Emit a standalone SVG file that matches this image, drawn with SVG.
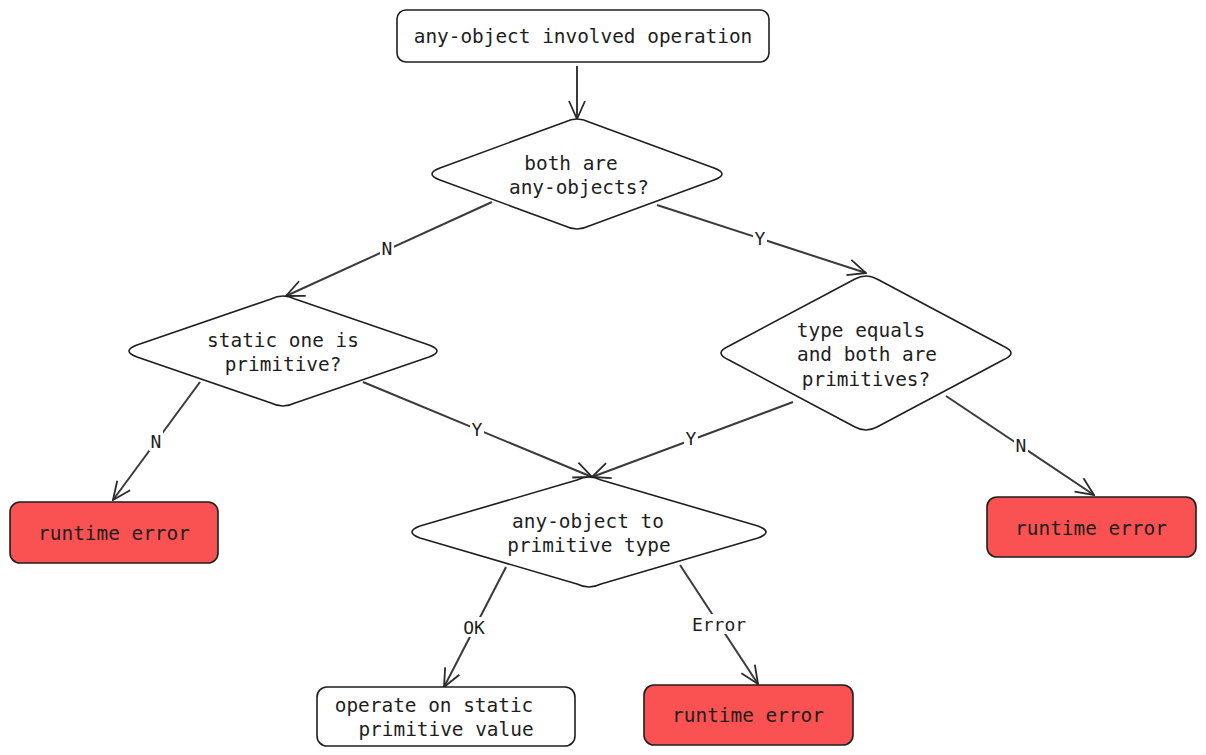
<svg xmlns="http://www.w3.org/2000/svg" width="1206" height="755" viewBox="0 0 1206 755">
<style>
.t{font-family:"DejaVu Sans Mono","Liberation Mono",monospace;font-size:19.4px;fill:#1e1e1e;text-anchor:middle;dominant-baseline:central}
.s{fill:#fff;stroke:#1e1e1e;stroke-width:1.6;stroke-linejoin:round}
.r{fill:#fa5252;stroke:#1e1e1e;stroke-width:1.6}
.c{fill:none;stroke:#3a3a3a;stroke-width:2;marker-end:url(#a)}
.l{font-family:"DejaVu Sans Mono","Liberation Mono",monospace;font-size:18px;fill:#1e1e1e;text-anchor:middle;dominant-baseline:central}
.lb{fill:#fff}
</style>
<defs>
<marker id="a" viewBox="0 0 20 20" refX="19" refY="10" markerWidth="20" markerHeight="20" markerUnits="userSpaceOnUse" orient="auto">
<path d="M1,2 L19,10 L1,18" fill="none" stroke="#2a2a2a" stroke-width="1.8"/>
</marker>
</defs>
<rect width="1206" height="755" fill="#fff"/>
<g id="connectors">
<path class="c" d="M577,66 L577,119"/>
<path class="c" d="M492,202 L286,296"/>
<path class="c" d="M657,205 L866,273"/>
<path class="c" d="M200,382 L113,500"/>
<path class="c" d="M363,382 L592,477"/>
<path class="c" d="M793,402 L592,477"/>
<path class="c" d="M946,396 L1094,495"/>
<path class="c" d="M506,567 L444,687"/>
<path class="c" d="M680,565 L758,684"/>
<rect class="lb" x="380" y="238" width="14" height="20"/><text class="l" x="387" y="248">N</text>
<rect class="lb" x="753" y="228" width="14" height="20"/><text class="l" x="760" y="238">Y</text>
<rect class="lb" x="149" y="431" width="14" height="20"/><text class="l" x="156" y="441">N</text>
<rect class="lb" x="470" y="419" width="14" height="20"/><text class="l" x="477" y="429">Y</text>
<rect class="lb" x="684" y="428" width="14" height="20"/><text class="l" x="691" y="438">Y</text>
<rect class="lb" x="1014" y="435" width="14" height="20"/><text class="l" x="1021" y="445">N</text>
<rect class="lb" x="460" y="617" width="28" height="20"/><text class="l" x="474" y="627">OK</text>
<rect class="lb" x="688" y="614" width="62" height="20"/><text class="l" x="719" y="624">Error</text>
</g>
<g id="start">
<rect class="s" x="397" y="10" width="372" height="52" rx="9"/>
<text class="t" x="583" y="36">any-object involved operation</text>
</g>
<g id="both-any">
<path class="s" d="M565,122 Q577,116 589,122 L714,168 Q730,174 714,180 L589,226 Q577,232 565,226 L440,180 Q424,174 440,168 Z"/>
<text class="t" x="571" y="163">both are</text>
<text class="t" x="579" y="187">any-objects?</text>
</g>
<g id="static-primitive">
<path class="s" d="M271,299 Q283,293 295,299 L429,345 Q445,351 429,357 L295,403 Q283,409 271,403 L137,357 Q121,351 137,345 Z"/>
<text class="t" x="283" y="340">static one is</text>
<text class="t" x="283" y="364">primitive?</text>
</g>
<g id="type-equals">
<path class="s" d="M855,279 Q866,273 877,279 L1003,346 Q1019,353 1003,360 L877,427 Q866,433 855,427 L729,360 Q713,353 729,346 Z"/>
<text class="t" x="861" y="330">type equals</text>
<text class="t" x="867" y="354">and both are</text>
<text class="t" x="866" y="379">primitives?</text>
</g>
<g id="to-primitive">
<path class="s" d="M577,480 Q589,474 601,480 L758,526 Q774,532 758,538 L601,584 Q589,590 577,584 L420,538 Q404,532 420,526 Z"/>
<text class="t" x="588" y="521">any-object to</text>
<text class="t" x="589" y="545">primitive type</text>
</g>
<g id="error-left">
<rect class="r" x="10" y="502" width="208" height="61" rx="10"/>
<text class="t" x="114" y="533">runtime error</text>
</g>
<g id="error-right">
<rect class="r" x="987" y="497" width="209" height="60" rx="10"/>
<text class="t" x="1091" y="528">runtime error</text>
</g>
<g id="operate">
<rect class="s" x="317" y="687" width="258" height="59" rx="10"/>
<text class="t" x="434" y="705">operate on static</text>
<text class="t" x="446" y="729">primitive value</text>
</g>
<g id="error-bottom">
<rect class="r" x="644" y="685" width="209" height="60" rx="10"/>
<text class="t" x="748" y="715">runtime error</text>
</g>
</svg>
